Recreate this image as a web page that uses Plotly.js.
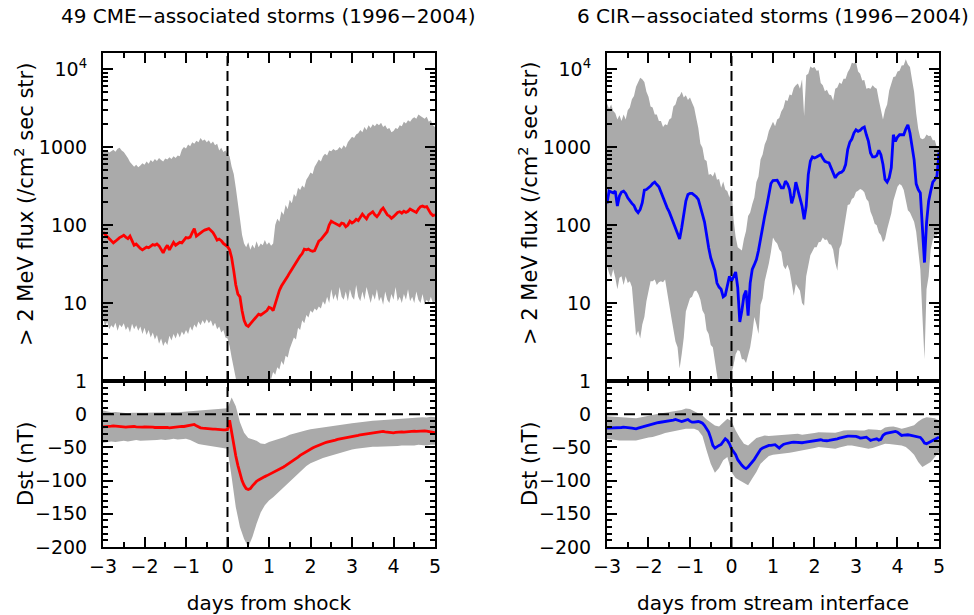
<!DOCTYPE html>
<html><head><meta charset="utf-8">
<script src="https://cdn.plot.ly/plotly-3.0.1.min.js"></script>
<style>html,body{margin:0;padding:0;background:#fff;}#chart{width:974px;height:615px;}</style>
</head><body><div id="chart"></div>
<script>
// ---------- data (time in days, start -3; fine step 0.05, coarse step 0.1) ----------
const T0 = -3, DT_FINE = 0.05, DT_COARSE = 0.1;

// CME-associated storms: >2 MeV electron flux (/cm2 sec str)
const cmeFluxHi = [930,860,900,850,880,920,870,950,980,900,860,800,720,640,600,560,590,550,580,620,590,650,610,680,640,700,660,720,680,650,710,690,740,700,760,720,780,760,920,1000,960,1080,1020,1150,1100,1200,1150,1300,1200,1250,1150,1220,1100,1180,1050,1100,900,980,860,900,800,760,560,450,300,200,120,75,58,52,60,48,56,50,62,52,58,55,64,56,60,54,58,100,120,110,150,135,180,160,210,190,250,230,300,280,320,300,380,420,470,450,560,620,690,650,760,820,780,900,880,940,900,920,1000,940,1050,980,1150,1250,1350,1300,1450,1500,1650,1550,1800,1650,1900,1750,1950,1850,2000,1900,2050,1800,1900,1700,1750,1550,1600,1750,1700,1900,1850,2100,2000,2200,2100,2300,2400,2300,2600,2500,2400,2300,2450,2100,2200,1900,1800];
const cmeFluxLo = [6.5,5.0,5.8,4.6,5.2,4.8,5.6,4.4,5.3,4.9,5.5,4.5,5.0,4.2,5.4,4.6,5.2,4.4,5.0,4.0,4.8,3.9,4.5,3.6,4.2,3.4,3.9,3.0,3.5,2.8,3.2,2.9,3.8,3.3,4.0,3.5,4.2,3.6,4.3,3.9,4.5,4.0,5.0,4.4,5.3,4.8,5.8,5.2,6.0,5.4,6.2,5.5,6.0,5.0,5.6,4.6,5.0,4.2,4.5,3.6,3.5,2.8,2.0,1.4,1.0,0.8,0.8,0.8,0.8,0.8,0.8,0.8,0.8,0.8,0.8,0.8,0.8,0.8,0.8,0.8,1.1,1.05,1.3,1.2,1.5,1.4,1.8,1.6,2.1,2.0,2.6,3.0,3.6,3.4,4.8,4.5,6.0,5.5,7.0,6.5,8.0,7.5,8.5,8.0,9.0,8.5,10.5,9.5,12,10,15,11,13,10.5,16,12,11,14,10.5,15,12,11,17,12,10.5,14,11,16,12,10,13,11,15,10.5,12,9.5,14,11,10,13,11,16,10.5,12,10,13,11,15,10.5,12,10,14,11,10,13,9.5,11,10,12,10,10.5];
const cmeFluxMed = [81,76,72,66,62,59,62,66,69,71,74,70,67,72,62,55,57,53,50,48,50,52,51,54,56,55,57,54,49,44,50,55,48,53,60,55,57,60,59,65,69,68,70,80,90,72,76,80,83,86,88,90,85,80,72,64,66,63,58,56,53,48,38,26,17,13,12,8,6,5.2,5.0,5.4,5.8,6.2,6.8,7.2,7.0,7.3,7.6,8.0,8.8,8.6,8.0,10,12.5,14.5,16.5,18,20,22,24.5,27,30,34,36,40,43,49,48,49,47,46,47,55,62,65,70,75,82,100,112,108,105,100,98,106,104,95,100,112,106,110,118,114,125,138,128,120,135,140,148,135,128,138,155,165,148,135,130,122,128,138,145,148,142,150,145,150,160,155,148,145,160,172,175,170,172,155,140,132,135];

// CME-associated storms: Dst (nT)
const cmeDstHi = [5.5,4,3,3.5,2.5,2,1.5,2,1.5,2,2,2.5,2,2.5,2.5,3,2.5,3,3,3.5,3,4,4.5,4.5,5.5,6,6.5,7.5,7.5,8.5,9,25,12,-12,-28,-36,-38,-40,-44,-45,-42,-40,-39,-37,-34,-31,-29,-27,-25.5,-24,-22.5,-21.5,-20.5,-19.5,-18.5,-17.5,-16.5,-15.5,-15,-14,-13.5,-13,-12,-11.5,-11,-10,-9.5,-9,-8.5,-8,-7.5,-7,-6,-5.5,-5,-4.5,-4,-4.5,-5,-4,-4.5];
const cmeDstLo = [-43,-42,-41,-42,-41,-40,-41,-40,-39,-40,-40,-39,-40,-39,-38,-39,-38,-37,-38,-37,-37,-39,-42,-45,-46,-47,-48,-49,-49,-50,-52,-95,-140,-170,-188,-200,-185,-165,-148,-137,-130,-125,-119,-113,-108,-102,-96,-90,-84,-78,-74,-71,-68,-66,-64,-62,-60,-58,-56,-54,-53,-52,-51,-50,-50,-49,-49,-49,-48,-48,-48,-48,-47,-47,-48,-47,-46,-47,-47,-46,-46];
const cmeDstMed = [-19,-19,-18.5,-18,-18,-17.5,-18,-18.5,-19,-19.5,-20,-19.5,-19,-18.5,-18,-18.5,-19,-19.5,-20,-19.5,-19,-19,-18.5,-19,-19.5,-20,-20,-19.5,-19,-19,-19.5,-20,-20.5,-20,-19.5,-19,-19,-19,-18.5,-18.5,-18,-17,-16,-15.5,-15.5,-17.5,-19.5,-20.5,-21,-21.5,-21.5,-22,-22,-22.5,-22.5,-23,-23,-23,-23.5,-23.5,-23,-9,-28,-47,-63,-77,-90,-100,-107,-112,-113.5,-112,-108,-104,-101,-99,-97,-95.5,-94,-92.5,-91,-89.5,-88,-86.5,-85,-83,-81,-79.5,-77.5,-75.5,-73.5,-71.5,-69,-67,-64.5,-62,-60,-58,-56,-54,-52.5,-51,-49.5,-48,-46.5,-45,-43.5,-43,-42,-41.5,-40.5,-39.5,-39,-38,-37.5,-37,-36,-35.5,-35,-34.5,-34,-33,-32.5,-32,-31,-30.5,-30,-29.5,-29,-28.5,-28,-27.5,-27,-26.5,-26,-26,-26.5,-27,-27.5,-28,-28,-27.5,-27,-27,-26.5,-27,-26.5,-26,-26.5,-26,-25.5,-26,-25.5,-25,-24.5,-25,-25.5,-26,-27,-27.5,-28];

// CIR-associated storms: >2 MeV electron flux (/cm2 sec str)
const cirFluxHi = [3600,3100,3500,2900,2700,2250,2550,2150,2600,2250,2950,3200,4100,4500,5900,6700,7700,7400,6800,5100,4400,3300,3200,2600,2600,2150,2150,1800,1950,1900,2250,2350,3300,3500,4300,4500,5100,4300,4600,4000,4300,3700,3200,2350,1750,1100,980,690,660,440,450,420,480,380,390,300,360,285,270,225,300,118,70,52,49,47,66,84,130,145,185,225,355,420,690,800,1080,1250,1600,1800,2100,1850,2250,2350,2850,3150,4000,3900,4700,4600,5700,6200,6500,5600,7400,2500,8300,8700,10800,10300,10600,9500,9600,6600,6200,5200,5400,4700,4600,3950,5600,5800,6700,6400,7500,7500,9100,10100,12000,11800,12300,9300,8700,7100,7200,5600,5700,5600,6200,5800,5600,4000,3100,2250,3000,3500,5300,6300,7900,8000,9300,9500,11100,11200,13300,11400,10600,7300,5100,2700,1700,1300,1260,1290,1450,1380,1390,1220,1220,980,960];
const cirFluxLo = [30,24,21,27,21,15,21,22,17,22,18,19,16,8.4,3.8,4.4,3.5,5.3,6.6,10.5,14,19,19,20,17,18.5,19,18.5,20,13,9.5,6.5,4.6,3.2,2.7,1.45,2.2,3.6,7.8,9.6,11.5,12,14,14.5,13,11,8,7.2,4.5,4.0,2.9,2.7,1.7,1.2,0.8,0.8,0.8,0.8,0.8,1.05,1.25,1.6,2.2,2.5,2.4,1.9,1.9,1.7,2.2,2.7,4.0,6.6,5.3,4.0,9.5,11.5,19,24,32,45,69,62,58,49,45,30,27,31,26,18,12.4,17.5,16,14.4,10,9.2,22,31,41,46,52,52,60,61,69,64,65,57,56,48,33,26,50,57,86,112,180,185,215,225,265,275,290,280,262,215,200,148,128,104,99,80,74,60,66,88,115,140,205,250,310,335,320,280,200,155,145,125,110,82,50,27,6.9,1.9,15,22,49,64,74,74,82];
const cirFluxMed = [189,272,265,258,272,175,235,265,272,254,223,202,189,178,155,144,158,193,280,285,297,315,340,354,330,309,265,223,189,166,147,124,105,92,76,66,92,137,202,246,254,254,244,230,213,175,137,109,72,51,38,31,26,18,16,15,12,12.6,16,22,19,22,25,15.8,5.7,8,12.4,14.4,6.9,18,27,31,36,47,69,92,130,175,254,340,372,375,375,337,300,300,365,337,285,190,235,354,285,213,175,118,175,443,656,745,724,745,775,798,716,656,637,625,540,466,402,443,466,475,504,595,925,1148,1265,1510,1663,1585,1633,1750,1800,1435,1180,838,745,745,775,906,798,595,383,354,402,540,1435,1180,1343,1435,1420,1435,1698,1928,1510,1020,689,337,285,258,88,33,107,202,272,354,383,422,850];

// CIR-associated storms: Dst (nT)
const cirDstHi = [-3,-3.5,-4.5,-4.5,-5,-5.5,-6,-6,-5,-3.5,-2,-0.5,0.5,1.5,2,3,3.5,4.5,6.5,8.5,8,4.5,1.5,-2,-8,-13,-17,-18.5,-13,-7,-10.5,-24.5,-35.5,-44.5,-47,-42,-36,-34,-32,-33,-32.5,-32,-31.5,-31,-30.5,-30,-29.5,-31,-30.5,-29.5,-28.5,-27,-27.5,-28,-28,-28,-26.5,-24.5,-24,-23.5,-24,-24.5,-24.5,-22.5,-22.5,-23.5,-24,-20,-19,-18.5,-20,-22,-20.5,-18.5,-16.5,-11,-7,-4.5,-5,-6,-9.5];
const cirDstLo = [-37,-38,-39,-39.5,-39.5,-40,-39.5,-39.5,-38,-36,-35,-34.5,-33,-30.5,-28.5,-27,-26,-24.5,-23,-22,-22,-22,-24.5,-33,-54.5,-74.5,-88,-81,-69.5,-64.5,-87,-96,-100,-103,-107,-97,-87,-74.5,-68,-63,-61,-60.5,-60,-59.5,-58,-57,-56,-54.5,-54,-53,-51,-49.5,-50,-51,-52,-52,-50,-48.5,-47,-47,-48,-49.5,-51,-52,-51,-48.5,-46,-44.5,-45,-46,-46.5,-47,-49.5,-54.5,-61,-72,-79.5,-76,-72,-64.5,-57];
const cirDstMed = [-21,-21,-21,-20.5,-21,-20.5,-20,-20,-19.5,-19.5,-19.5,-20.5,-21,-22,-22,-21,-20,-19.5,-18.5,-17,-16,-15,-14.5,-13.5,-13,-12.5,-12,-11.5,-11,-11,-11,-10,-9,-8,-9,-10,-11,-10,-9,-8,-10.5,-12,-12,-11.5,-11,-12,-13.5,-17,-22,-27,-36,-47,-51,-48.5,-47,-45.5,-42,-37,-39.5,-44.5,-52,-56,-61,-68.5,-73,-77,-80,-82,-79.5,-76,-73,-68,-63,-58,-53,-51,-49.5,-48,-47,-47,-46,-46,-48.5,-51,-48,-45.5,-44.5,-43.5,-43,-42.5,-42,-42.5,-43,-43.5,-43,-42.5,-42,-41.5,-40.5,-39.5,-39,-38.5,-38,-38.5,-39.5,-40,-40,-39.5,-39,-39,-37.5,-37,-36,-35,-34.5,-33.5,-33,-33,-33,-33.5,-33.5,-34.5,-36,-35.5,-35,-34.5,-37,-39.5,-38.5,-37.5,-37,-39,-38,-32,-29.5,-28.5,-27.5,-27,-26.5,-26,-27,-29.5,-32,-31.5,-31,-31,-31.5,-32,-32.5,-33,-34,-35,-38.5,-43.5,-44.5,-43,-41.5,-40,-37.5,-36,-34.5];

// tick labels / titles
const fluxTickVals = [1, 10, 100, 1000, 10000];
const fluxTickText = ['1', '10', '100', '1000', '10<sup>4</sup>'];
const dstTickVals = [-200, -150, -100, -50, 0];
const titles = ['49 CME\u2212associated storms (1996\u22122004)', '6 CIR\u2212associated storms (1996\u22122004)'];
const xTitles = ['days from shock', 'days from stream interface'];
const fluxTitle = '> 2 MeV flux (/cm<sup>2</sup> sec str)';
const dstTitle = 'Dst (nT)';

// ---------- build ----------
function times(arr, dt) { return arr.map((_, i) => +(T0 + i * dt).toFixed(3)); }
const GRAY = '#aaaaaa', RED = '#ff0000', BLUE = '#0000ff';

function band(lo, hi, dt, xa, ya) {
  const t = times(lo, dt);
  return [
    {x: t, y: lo, xaxis: xa, yaxis: ya, type: 'scatter', mode: 'lines', line: {width: 0, color: GRAY}, hoverinfo: 'skip', showlegend: false},
    {x: t, y: hi, xaxis: xa, yaxis: ya, type: 'scatter', mode: 'lines', line: {width: 0, color: GRAY}, fill: 'tonexty', fillcolor: GRAY, hoverinfo: 'skip', showlegend: false}
  ];
}
function med(y, dt, xa, ya, color) {
  return {x: times(y, dt), y: y, xaxis: xa, yaxis: ya, type: 'scatter', mode: 'lines', line: {width: 2.8, color: color}, showlegend: false};
}

const traces = [
  ...band(cmeFluxLo, cmeFluxHi, DT_FINE, 'x', 'y'), med(cmeFluxMed, DT_FINE, 'x', 'y', RED),
  ...band(cmeDstLo, cmeDstHi, DT_COARSE, 'x2', 'y2'), med(cmeDstMed, DT_FINE, 'x2', 'y2', RED),
  ...band(cirFluxLo, cirFluxHi, DT_FINE, 'x3', 'y3'), med(cirFluxMed, DT_FINE, 'x3', 'y3', BLUE),
  ...band(cirDstLo, cirDstHi, DT_COARSE, 'x4', 'y4'), med(cirDstMed, DT_FINE, 'x4', 'y4', BLUE)
];

const FONT_FAMILY = 'DejaVu Sans, Verdana, sans-serif';
const tickFont = {family: FONT_FAMILY, size: 19, color: '#000'};
const titleFont = {family: FONT_FAMILY, size: 20, color: '#000'};
const yTitleFont = {family: FONT_FAMILY, size: 21, color: '#000'};

const axBase = {
  showline: true, linecolor: '#000', linewidth: 2, mirror: 'allticks',
  ticks: 'inside', ticklen: 10, tickwidth: 2, tickcolor: '#000',
  showgrid: false, zeroline: false, tickfont: tickFont, automargin: false, fixedrange: true
};
const minorX = {ticks: 'inside', ticklen: 5, tickwidth: 2, tickcolor: '#000', tick0: 0, dtick: 0.5, showgrid: false};
function xAxis(domain, anchor, labels, title) {
  const a = Object.assign({}, axBase, {
    domain: domain, anchor: anchor, range: [-3, 5], tickmode: 'linear', tick0: 0, dtick: 1,
    showticklabels: labels, minor: minorX, ticklabelstandoff: 1
  });
  if (title) a.title = {text: title, font: titleFont, standoff: 24};
  return a;
}
const logMinor = [];
for (let d = 1; d <= 1000; d *= 10) for (let k = 2; k <= 9; k++) logMinor.push(k * d);
function fluxAxis(domain, anchor) {
  return Object.assign({}, axBase, {
    domain: domain, anchor: anchor, type: 'log', range: [0, 4.205],
    tickmode: 'array', tickvals: fluxTickVals, ticktext: fluxTickText, ticklabelstandoff: 10,
    minor: {ticks: 'inside', ticklen: 5, tickwidth: 2, tickcolor: '#000', tickmode: 'array', tickvals: logMinor, showgrid: false}
  });
}
function dstAxis(domain, anchor) {
  return Object.assign({}, axBase, {
    domain: domain, anchor: anchor, range: [-200, 50],
    tickmode: 'array', tickvals: dstTickVals, ticklabelstandoff: 10,
    minor: {ticks: 'inside', ticklen: 5, tickwidth: 2, tickcolor: '#000', tick0: 0, dtick: 10, showgrid: false}
  });
}

const XL = [0, 0.39713], XR = [0.60287, 1];
const YT = [0.33603, 1], YB = [0, 0.33603];

const dash = {color: '#000', width: 2, dash: '10px,5px'};
const shapes = [];
[['x', 'y'], ['x2', 'y2'], ['x3', 'y3'], ['x4', 'y4']].forEach(([xa, ya]) => {
  shapes.push({type: 'line', xref: xa, yref: ya + ' domain', x0: 0, x1: 0, y0: 0, y1: 1, line: dash, layer: 'above'});
});
[['x2', 'y2'], ['x4', 'y4']].forEach(([xa, ya]) => {
  shapes.push({type: 'line', xref: xa + ' domain', yref: ya, x0: 0, x1: 1, y0: 0, y1: 0, line: {color: '#000', width: 2, dash: '11px,6px'}, layer: 'above'});
});

function yTitle(text, x, y) {
  return {text: text, textangle: -90, xref: 'paper', yref: 'paper', x: x, y: y, xanchor: 'center', yanchor: 'middle', showarrow: false, font: yTitleFont};
}

const layout = {
  width: 974, height: 615,
  margin: {l: 103, r: 35, t: 53, b: 68},
  paper_bgcolor: '#fff', plot_bgcolor: '#fff',
  showlegend: false,
  font: {family: FONT_FAMILY, color: '#000'},
  xaxis: xAxis(XL, 'y', false, null),
  yaxis: fluxAxis(YT, 'x'),
  xaxis2: xAxis(XL, 'y2', true, xTitles[0]),
  yaxis2: dstAxis(YB, 'x2'),
  xaxis3: xAxis(XR, 'y3', false, null),
  yaxis3: fluxAxis(YT, 'x3'),
  xaxis4: xAxis(XR, 'y4', true, xTitles[1]),
  yaxis4: dstAxis(YB, 'x4'),
  shapes: shapes,
  annotations: [
    {text: titles[0], xref: 'paper', yref: 'paper', x: 0.19856, y: 1.0749, xanchor: 'center', yanchor: 'middle', showarrow: false, font: titleFont},
    {text: titles[1], xref: 'paper', yref: 'paper', x: 0.80144, y: 1.0749, xanchor: 'center', yanchor: 'middle', showarrow: false, font: titleFont},
    yTitle(fluxTitle, -0.0945, 0.6943),
    yTitle(fluxTitle, 0.5084, 0.6943),
    yTitle(dstTitle, -0.0921, 0.168),
    yTitle(dstTitle, 0.5108, 0.168)
  ]
};

Plotly.newPlot('chart', traces, layout, {staticPlot: true, displayModeBar: false});
</script>
</body></html>
